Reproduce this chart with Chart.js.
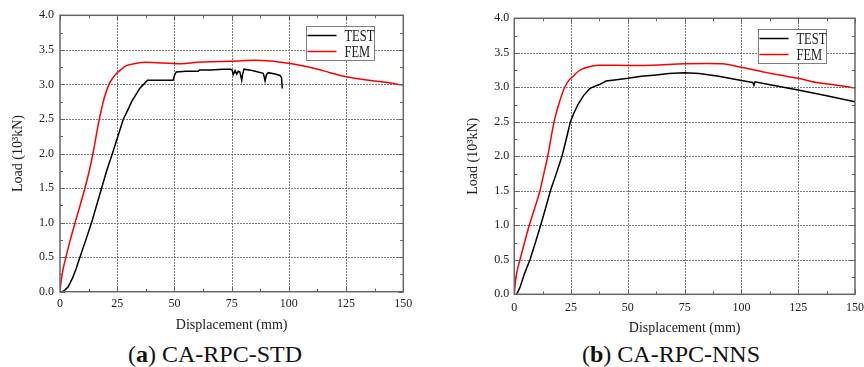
<!DOCTYPE html>
<html>
<head>
<meta charset="utf-8">
<script src="https://cdn.jsdelivr.net/npm/chart.js@4.4.1/dist/chart.umd.min.js"></script>
<style>
  html, body { margin: 0; padding: 0; background: #fff; overflow: hidden; }
  #page { position: relative; width: 864px; height: 367px; overflow: hidden; }
  canvas { position: absolute; top: 0; }
  #chartA { left: 0; }
  #chartB { left: 430px; }
  .caption { position: absolute; top: 342px; width: 300px; text-align: center;
    font-family: 'Liberation Serif', serif; font-size: 24px; line-height: 24px; color: #111; }
</style>
</head>
<body>
<div id="page">
  <canvas id="chartA" width="430" height="340"></canvas>
  <canvas id="chartB" width="440" height="340"></canvas>
  <div class="caption" style="left:65px">(<b>a</b>) CA-RPC-STD</div>
  <div class="caption" style="left:521px">(<b>b</b>) CA-RPC-NNS</div>
</div>
<script>
'use strict';

let seriesNames = ['TEST', 'FEM'];
let xTicks = [0, 25, 50, 75, 100, 125, 150];
let yTicks = [0, 0.5, 1.0, 1.5, 2.0, 2.5, 3.0, 3.5, 4.0];

// (a) CA-RPC-STD
let stdTestX = [1.0, 2.0, 3.6, 5.5, 7.0, 8.7, 11.3, 13.8, 16.0, 18.2, 20.4, 22.9, 25.3, 27.7, 29.5, 31.3, 33.5, 35.0, 36.5, 38.2,
  43, 49.4, 50.0, 50.8, 55, 60.4, 61, 66, 71, 74.5, 75.2, 75.7, 76.5, 77.2, 77.9, 78.6, 79.0, 79.4, 79.8, 80.4,
  84, 88.8, 89.3, 89.6, 90.2, 91, 94, 96.1, 96.8, 97.1];
let stdTestY = [0, 0.02, 0.07, 0.2, 0.33, 0.5, 0.75, 1.0, 1.25, 1.5, 1.75, 2.0, 2.25, 2.5, 2.62, 2.75, 2.87, 2.95, 3.0, 3.06,
  3.06, 3.06, 3.13, 3.18, 3.19, 3.19, 3.21, 3.21, 3.22, 3.22, 3.21, 3.14, 3.2, 3.15, 3.19, 3.18, 3.12, 3.06, 3.15, 3.22,
  3.2, 3.16, 3.1, 3.05, 3.14, 3.17, 3.15, 3.13, 3.1, 2.94];
let stdFemX = [0, 0.3, 0.7, 1.5, 2.6, 4.5, 6.6, 8.8, 10.9, 12.8, 14.4, 17.2, 19.3, 21.4, 23.0, 24.8, 26.5, 28.4, 31, 34.2,
  37, 45, 53, 60, 70, 78.6, 85, 92, 99.7, 110, 118, 125, 135, 142, 150];
let stdFemY = [0, 0.1, 0.2, 0.35, 0.5, 0.75, 1.0, 1.25, 1.5, 1.75, 2.0, 2.5, 2.8, 3.0, 3.09, 3.16, 3.21, 3.26, 3.29, 3.31,
  3.32, 3.31, 3.30, 3.32, 3.33, 3.34, 3.35, 3.34, 3.305, 3.24, 3.17, 3.11, 3.06, 3.03, 2.99];

// (b) CA-RPC-NNS
let nnsTestX = [1.0, 2.5, 4.5, 6.9, 9.3, 11.6, 13.8, 15.9, 18.5, 21.0, 22.9, 24.7, 26.3, 28.0, 30.5, 33.2, 35, 37.5, 40.4, 45,
  50, 56, 62.4, 68, 75, 81.4, 90, 100, 105, 105.5, 106, 112, 125, 137, 150];
let nnsTestY = [0, 0.1, 0.3, 0.5, 0.75, 1.0, 1.25, 1.5, 1.75, 2.0, 2.25, 2.5, 2.63, 2.75, 2.88, 2.98, 3.01, 3.04, 3.09, 3.11,
  3.13, 3.16, 3.18, 3.2, 3.21, 3.2, 3.16, 3.1, 3.07, 3.03, 3.08, 3.04, 2.96, 2.88, 2.79];
let nnsFemX = [0, 0.4, 1.0, 2.5, 4.5, 6.6, 9.0, 11.3, 13.0, 14.7, 17.5, 20.0, 22.2, 24.0, 25.9, 28.5, 31, 34.5, 37, 45,
  55, 61, 75, 85, 91.6, 100, 110, 118, 125, 133, 140, 150];
let nnsFemY = [0, 0.15, 0.3, 0.5, 0.75, 1.0, 1.25, 1.5, 1.75, 2.0, 2.5, 2.8, 3.0, 3.1, 3.16, 3.24, 3.28, 3.31, 3.32, 3.32,
  3.315, 3.32, 3.34, 3.345, 3.34, 3.29, 3.22, 3.17, 3.13, 3.07, 3.04, 2.99];

let serif = 'Liberation Serif';
let inkColor = '#222';

// dotted grid under the curves, then frame, inner ticks and legend on top
let framePlugin = {
  id: 'framePlugin',
  beforeDatasetsDraw(chart) {
    let ctx = chart.ctx;
    let a = chart.chartArea;
    let x = chart.scales.x;
    let y = chart.scales.y;
    ctx.save();
    ctx.fillStyle = '#7f7f7f';
    xTicks.slice(1, -1).forEach(v => {
      let px = Math.round(x.getPixelForValue(v));
      for (let py = Math.ceil(a.top); py < a.bottom; py += 3) {
        ctx.fillRect(px, py, 1, 2);
      }
    });
    yTicks.slice(1, -1).forEach(v => {
      let py = Math.round(y.getPixelForValue(v));
      for (let px = Math.ceil(a.left); px < a.right; px += 3) {
        ctx.fillRect(px, py, 2, 1);
      }
    });
    ctx.restore();
  },
  afterDraw(chart) {
    let ctx = chart.ctx;
    let a = chart.chartArea;
    let x = chart.scales.x;
    let y = chart.scales.y;
    ctx.save();
    ctx.strokeStyle = '#666';
    ctx.lineWidth = 1;
    ctx.beginPath();
    for (let v = 0; v <= 150; v += 12.5) {
      let len = v % 25 === 0 ? 5 : 3;
      let px = Math.round(x.getPixelForValue(v)) + 0.5;
      ctx.moveTo(px, a.bottom); ctx.lineTo(px, a.bottom - len);
      ctx.moveTo(px, a.top); ctx.lineTo(px, a.top + len);
    }
    for (let v = 0; v <= 4; v += 0.25) {
      let len = (v * 2) % 1 === 0 ? 5 : 3;
      let py = Math.round(y.getPixelForValue(v)) + 0.5;
      ctx.moveTo(a.left, py); ctx.lineTo(a.left + len, py);
      ctx.moveTo(a.right, py); ctx.lineTo(a.right - len, py);
    }
    ctx.stroke();

    ctx.lineWidth = 1.5;
    ctx.strokeRect(a.left, a.top, a.right - a.left, a.bottom - a.top);

    // legend box
    let bx = Math.round(a.right - 97) + 0.5;
    let by = Math.round(a.top + 11) + 0.5;
    ctx.fillStyle = '#fff';
    ctx.fillRect(bx, by, 68, 34);
    ctx.lineWidth = 1;
    ctx.strokeStyle = '#808080';
    ctx.strokeRect(bx, by, 68, 34);
    ctx.font = '16px ' + serif;
    ctx.textBaseline = 'middle';
    ctx.fillStyle = inkColor;
    chart.data.datasets.forEach((ds, i) => {
      let ly = by + 9 + i * 16;
      ctx.strokeStyle = ds.borderColor;
      ctx.lineWidth = 1.5;
      ctx.beginPath();
      ctx.moveTo(bx + 1, ly);
      ctx.lineTo(bx + 30, ly);
      ctx.stroke();
      ctx.save();
      ctx.translate(bx + 38, ly + 1);
      ctx.scale(0.78, 1);
      ctx.fillText(ds.label, 0, 0);
      ctx.restore();
    });
    ctx.restore();
  }
};

function toPoints(xs, ys) {
  return xs.map((v, i) => ({ x: v, y: ys[i] }));
}

function makeChart(id, testX, testY, femX, femY, box) {
  let ctx = document.getElementById(id).getContext('2d');
  return new Chart(ctx, {
    type: 'line',
    data: {
      datasets: [{
        label: seriesNames[0],
        data: toPoints(testX, testY),
        borderColor: '#000000',
        borderWidth: 1.5,
        pointRadius: 0,
        tension: 0
      }, {
        label: seriesNames[1],
        data: toPoints(femX, femY),
        borderColor: '#ff0000',
        borderWidth: 1.5,
        pointRadius: 0,
        cubicInterpolationMode: 'monotone'
      }]
    },
    options: {
      responsive: false,
      animation: false,
      events: [],
      layout: { padding: box.pad },
      plugins: { legend: { display: false }, tooltip: { enabled: false } },
      scales: {
        x: {
          type: 'linear',
          min: 0,
          max: 150,
          afterBuildTicks: s => { s.ticks = xTicks.map(v => ({ value: v })); },
          afterFit: s => { s.height = box.xHeight; },
          grid: { display: false, drawTicks: false },
          border: { display: false },
          ticks: { padding: box.xTickPad, color: inkColor, autoSkip: false, maxRotation: 0,
            font: { family: serif, size: 12 }, callback: v => String(v) },
          title: { display: true, text: 'Displacement (mm)', color: inkColor,
            font: { family: serif, size: 14 }, padding: { top: 0, bottom: box.xTitlePad } }
        },
        y: {
          type: 'linear',
          min: 0,
          max: 4,
          afterBuildTicks: s => { s.ticks = yTicks.map(v => ({ value: v })); },
          afterFit: s => { s.width = box.yWidth; },
          grid: { display: false, drawTicks: false },
          border: { display: false },
          ticks: { padding: box.yTickPad, color: inkColor, autoSkip: false,
            font: { family: serif, size: 12 }, callback: v => v.toFixed(1) },
          title: { display: true, text: 'Load (10³kN)', color: inkColor,
            font: { family: serif, size: 14 }, padding: { top: box.yTitlePad, bottom: 0 } }
        }
      }
    },
    plugins: [framePlugin]
  });
}

makeChart('chartA', stdTestX, stdTestY, stdFemX, stdFemY, {
  pad: { left: 0, top: 15.3, right: 26.7, bottom: 0 },
  yWidth: 60, xHeight: 48.3, xTickPad: 5, yTickPad: 6, xTitlePad: 6.6, yTitlePad: 9.6
});
makeChart('chartB', nnsTestX, nnsTestY, nnsFemX, nnsFemY, {
  pad: { left: 0, top: 18.3, right: 13.3, bottom: 0 },
  yWidth: 84.3, xHeight: 45.7, xTickPad: 6, yTickPad: 5, xTitlePad: 3.6, yTitlePad: 34.6
});
</script>
</body>
</html>
